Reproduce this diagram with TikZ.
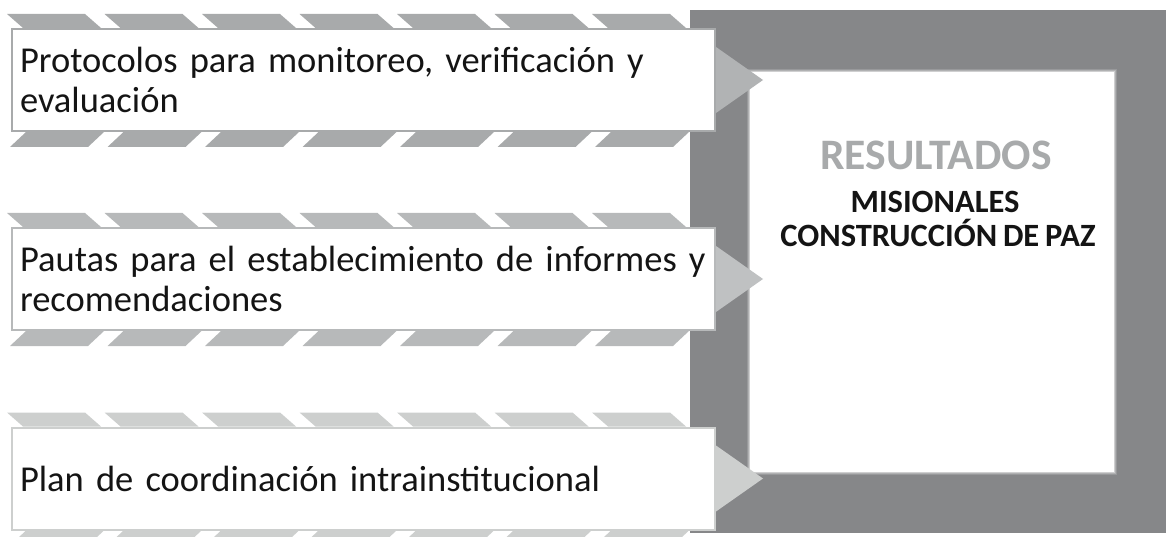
\documentclass[tikz,border=0pt]{standalone}
\usepackage{fontspec}
\setmainfont{Carlito}[WordSpace=0.8]
\usetikzlibrary{positioning,calc}

\definecolor{frame_gray}{HTML}{868789}
\definecolor{stripe_a}{HTML}{A8AAAB}
\definecolor{stripe_b}{HTML}{B7B9BA}
\definecolor{stripe_c}{HTML}{CDCFCE}
\definecolor{tip_a}{HTML}{B1B3B4}
\definecolor{tip_b}{HTML}{BFC1C2}
\definecolor{tip_c}{HTML}{CDCFCE}
\definecolor{text_dark}{HTML}{141414}

\begin{document}
\begin{tikzpicture}[x=1pt,y=-1pt,
	item_box/.style={draw=#1,line width=2pt,fill=white,minimum width=703pt,minimum height=102pt,
		inner xsep=8pt,text width=687pt,align=left,text=text_dark,
		font=\fontsize{36.5}{40}\selectfont},
	title_text/.style={anchor=base,font=\bfseries\fontsize{43.5}{44}\selectfont,text=stripe_a},
	sub_text/.style={anchor=base,font=\bfseries\fontsize{32.5}{33}\selectfont,text=text_dark}]

	\useasboundingbox (0,0) rectangle (1166,537);

	% marco de resultados
	\node[fill=frame_gray,minimum width=476pt,minimum height=523pt,inner sep=0pt] (frame) at (928,271.5) {};
	\foreach \d/\c in {3/85,2/65,1/40}
		\fill[frame_gray!\c!white] ($(932,272)+(-182-\d,-200-\d)$) rectangle ($(932,272)+(182+\d,200+\d)$);
	\node[fill=white,minimum width=364pt,minimum height=400pt,inner sep=0pt] (inner) at (932,272) {};

	\node[title_text] (res_title) at ($(inner.north)+(4,98)$) {RESULTADOS};
	\node[sub_text] (res_line1) at ($(inner.north)+(3,141)$) {MISIONALES};
	\node[sub_text] (res_line2) at ($(inner.north)+(6,175)$) {CONSTRUCCIÓN DE PAZ};

	% cajas de entrada
	\node[item_box=stripe_a] (box1) at (363.5,80) {Protocolos para monitoreo, verificación y\\evaluación};
	\node[item_box=stripe_b] (box2) at (363.5,279) {Pautas para el establecimiento de informes y\\recomendaciones};
	\node[item_box=stripe_c] (box3) at (363.5,478.5) {Plan de coordinación intrainstitucional};

	\foreach \b/\s/\t in {box1/stripe_a/tip_a, box2/stripe_b/tip_b, box3/stripe_c/tip_c}{
		\foreach \k in {0,...,6}{
			\fill[\s] ($(\b.north west)+(-4+97.5*\k,-14)$) -- ++(78,0) -- ++(16,14) -- ++(-78,0) -- cycle;
			\fill[\s] ($(\b.south west)+(15+97.5*\k,0)$) -- ++(78,0) -- ++(-16,15) -- ++(-78,0) -- cycle;
		}
		\fill[\t] ($(\b.east)+(0,-33)$) -- ++(47,33) -- ++(-47,33) -- cycle;
	}
\end{tikzpicture}
\end{document}
